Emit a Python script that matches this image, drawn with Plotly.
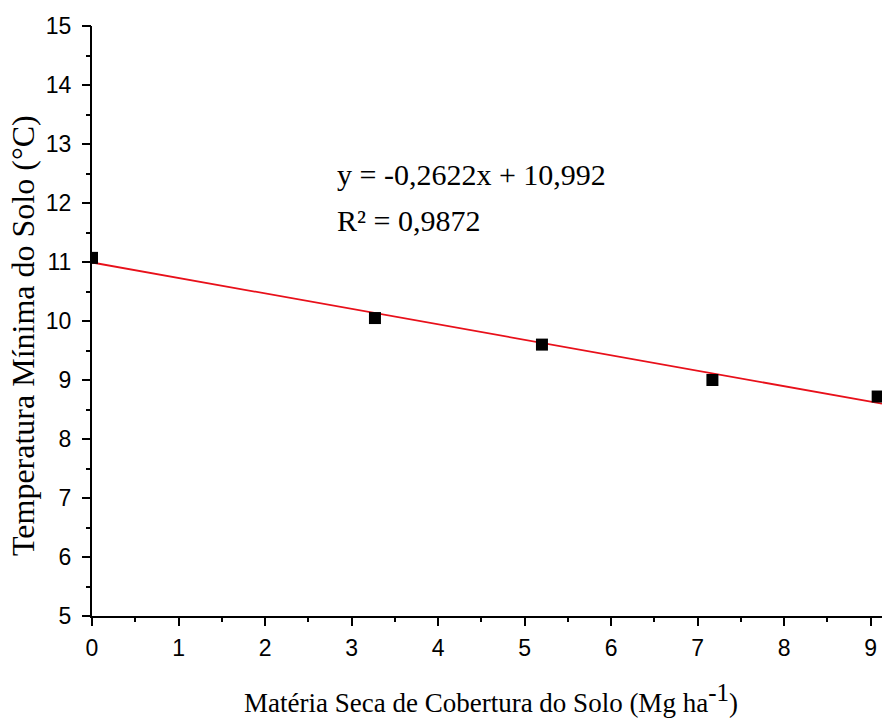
import plotly.graph_objects as go

# Soil cover dry matter (Mg/ha) vs. minimum soil temperature (°C)
materia_seca = [0.0, 3.27, 5.2, 7.17, 9.08]
temp_minima = [11.07, 10.05, 9.6, 9.0, 8.72]

# Linear fit coefficients
slope = -0.2622
intercept = 10.992
x_range = [0, 9.13]
y_range = [5, 15]
fit_x = list(x_range)
fit_y = [intercept + slope * v for v in fit_x]

serif = "Liberation Serif, Times New Roman, serif"
sans = "Arial"

W, H = 882, 720
left, right = 92, 882
plot_top, plot_bottom = 26, 616


def px_to_paper_x(px):
    return (px - left) / (right - left)


def px_to_paper_y(py):
    return (plot_bottom - py) / (plot_bottom - plot_top)


fig = go.Figure()
fig.add_trace(go.Scatter(
    x=fit_x, y=fit_y, mode="lines",
    line=dict(color="#e8101a", width=1.8), showlegend=False,
))
fig.add_trace(go.Scatter(
    x=materia_seca, y=temp_minima, mode="markers",
    marker=dict(symbol="square", size=12, color="black"), showlegend=False,
))
# empty trace so the minor-tick overlay axes are drawn
fig.add_trace(go.Scatter(x=[], y=[], xaxis="x2", yaxis="y2", showlegend=False))

axis_common = dict(
    showgrid=False, zeroline=False, showline=True, linecolor="black", linewidth=2,
    ticks="outside", ticklen=8, tickwidth=2, tickcolor="black",
    tickfont=dict(family=sans, size=23, color="black"),
)
minor_common = dict(
    showgrid=False, zeroline=False, showline=False, showticklabels=False,
    ticks="outside", ticklen=5, tickwidth=2, tickcolor="black", dtick=0.5,
)

fig.update_layout(
    xaxis=dict(range=x_range, dtick=1, tick0=0, ticklabelstandoff=2, **axis_common),
    yaxis=dict(range=y_range, dtick=1, tick0=5, ticklabelstandoff=6, **axis_common),
    xaxis2=dict(range=x_range, overlaying="x", anchor="y", side="bottom", tick0=0, **minor_common),
    yaxis2=dict(range=y_range, overlaying="y", anchor="x", side="left", tick0=5, **minor_common),
)

# Axis titles
fig.add_annotation(
    x=px_to_paper_x(491), y=px_to_paper_y(699), xref="paper", yref="paper",
    showarrow=False, xanchor="center", yanchor="middle",
    text='Matéria Seca de Cobertura do Solo (Mg ha<sup><span style="font-size:25px">-1</span></sup>)',
    font=dict(family=serif, size=27, color="black"),
)
fig.add_annotation(
    x=px_to_paper_x(23), y=px_to_paper_y(336), xref="paper", yref="paper",
    showarrow=False, xanchor="center", yanchor="middle", textangle=-90,
    text="Temperatura Mínima do Solo (°C)",
    font=dict(family=serif, size=32, color="black"),
)

# Regression equation and coefficient of determination
for txt, ypix in [("y = -0,2622x + 10,992", 174), ("R² = 0,9872", 220)]:
    fig.add_annotation(
        x=px_to_paper_x(335), y=px_to_paper_y(ypix), xref="paper", yref="paper",
        showarrow=False, xanchor="left", yanchor="middle",
        text=txt, font=dict(family=serif, size=30, color="black"),
    )

fig.update_layout(
    width=W, height=H,
    margin=dict(l=left, r=W - right, t=plot_top, b=H - plot_bottom),
    plot_bgcolor="white", paper_bgcolor="white",
)

fig.write_html("out.html")
